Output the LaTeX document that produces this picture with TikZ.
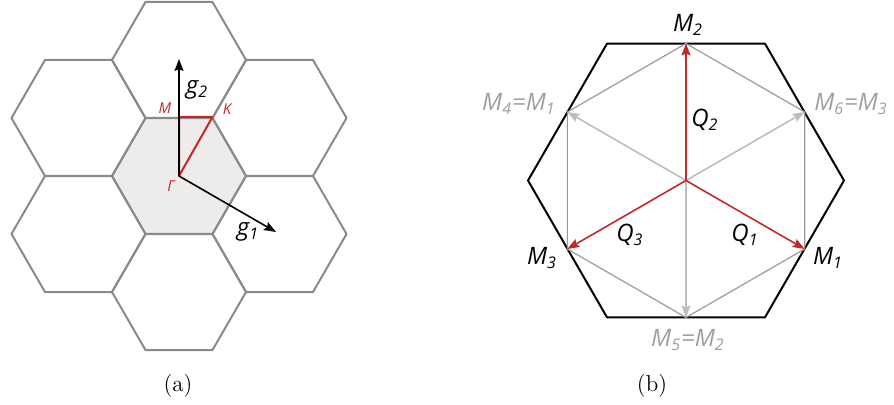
\documentclass[tikz,border=0pt]{standalone}
\usepackage{fontspec}
\usepackage{tikz}
\usetikzlibrary{arrows.meta}
\newfontfamily\labfont{Open Sans}
\definecolor{hexline}{HTML}{8A8A8A}
\definecolor{hexfill}{HTML}{EDECEB}
\definecolor{bzred}{HTML}{C62828}
\definecolor{midline}{HTML}{9A9A9A}
\definecolor{ghostline}{HTML}{BDBDBD}
\definecolor{ghosttext}{HTML}{9E9E9E}
\tikzset{
  hexcell/.style = {draw=hexline, line width=1pt, line join=round},
  bzpath/.style  = {draw=bzred, line width=1pt, line join=round},
  recip/.style   = {-{Stealth[length=6pt, width=4.5pt, inset=1pt]}, line width=0.8pt, draw=black},
  bzedge/.style  = {draw=black, line width=1pt, line join=round},
  midhex/.style  = {draw=midline, line width=0.6pt, line join=round},
  ghost/.style   = {-{Stealth[length=6pt, width=4.5pt, inset=1pt]}, line width=0.8pt, draw=ghostline},
  qvec/.style    = {-{Stealth[length=6pt, width=4.5pt, inset=1pt]}, line width=0.8pt, draw=bzred},
  lab/.style     = {font=\labfont\itshape\fontsize{12}{14}\selectfont, inner sep=0pt},
  smalllab/.style= {font=\labfont\itshape\fontsize{7.5}{9}\selectfont, inner sep=0pt, text=bzred},
  captxt/.style  = {font=\fontsize{11.5}{14}\selectfont, inner sep=0pt},
}
\newcommand{\msub}[2]{#1\textsubscript{#2}}

\begin{document}
\begin{tikzpicture}[x=0.5pt, y=-0.5pt]
    \useasboundingbox (0,0) rectangle (894,405);
    % (a) lattice of zones
    \fill[hexfill] (179,176) +(0:67) -- +(60:67) -- +(120:67) -- +(180:67) -- +(240:67) -- +(300:67) -- cycle;
    \foreach \cx/\cy in {179/176, 179/60, 179/292, 78.5/118, 78.5/234, 279.5/118, 279.5/234}{
        \draw[hexcell] (\cx,\cy) +(0:67) -- +(60:67) -- +(120:67) -- +(180:67) -- +(240:67) -- +(300:67) -- cycle;}
    \coordinate (gam) at (179,176);
    \coordinate (mpt) at (179,117);
    \coordinate (kpt) at (212.5,117);
    \coordinate (gtwotip) at (179,59);
    \coordinate (gonetip) at (276,232);
    \draw[bzpath] (gam) -- (mpt) -- (kpt) -- cycle;
    \foreach \t in {gtwotip, gonetip}{\draw[recip] (gam) -- (\t);}
    \node[smalllab] (mlab) at (165,108) {M};
    \node[smalllab] (klab) at (227,109) {K};
    \node[smalllab] (glab) at (171,186) {Γ};
    \node[lab] (gtwo) at (197,90) {\msub{g}{2}};
    \node[lab] (gone) at (248,232) {\msub{g}{1}};
    \node[captxt] (capa) at (178,386) {(a)};

    % (b) zone with M points
    \coordinate (ori) at (686,180.5);
    \draw[bzedge] (ori) +(0:158) -- +(60:158) -- +(120:158) -- +(180:158) -- +(240:158) -- +(300:158) -- cycle;
    \foreach \n/\a in {1/30, 2/270, 3/150, 4/210, 5/90, 6/330}{\path (ori) ++(\a:137) coordinate (m\n);}
    \draw[midhex] (m2) -- (m6) -- (m1) -- (m5) -- (m3) -- (m4) -- cycle;
    \foreach \n in {4,5,6}{\draw[ghost] (ori) -- (m\n);}
    \foreach \n in {1,2,3}{\draw[qvec] (ori) -- (m\n);}
    \node[lab] (mtwo) at (688,25) {\msub{M}{2}};
    \node[lab, text=ghosttext] (mfour) at (519,104) {\msub{M}{4}=\msub{M}{1}};
    \node[lab, text=ghosttext] (msix) at (851,104) {\msub{M}{6}=\msub{M}{3}};
    \node[lab] (mthree) at (542,258) {\msub{M}{3}};
    \node[lab] (mone) at (828,258) {\msub{M}{1}};
    \node[lab, text=ghosttext] (mfive) at (688,340) {\msub{M}{5}=\msub{M}{2}};
    \node[lab] (qtwo) at (705,120) {\msub{Q}{2}};
    \node[lab] (qthree) at (630,235) {\msub{Q}{3}};
    \node[lab] (qone) at (745,235) {\msub{Q}{1}};
    \node[captxt] (capb) at (652,386) {(b)};
\end{tikzpicture}
\end{document}
